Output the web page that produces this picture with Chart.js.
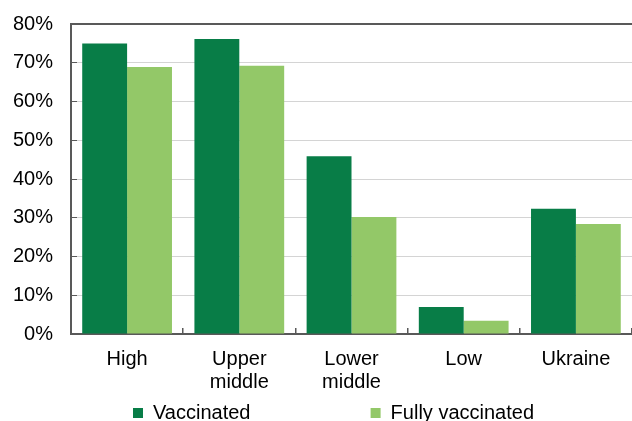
<!DOCTYPE html>
<html>
<head>
<meta charset="utf-8">
<script src="https://cdn.jsdelivr.net/npm/chart.js@4"></script>
<style>
  html, body { margin: 0; padding: 0; background: #fff; }
</style>
</head>
<body>
<canvas id="chart" width="632" height="421"></canvas>
<script>
// data
const categories = ['High', ['Upper', 'middle'], ['Lower', 'middle'], 'Low', 'Ukraine'];
const vaccinated = [75.0, 76.1, 45.9, 7.0, 32.3];
const fullyVaccinated = [68.9, 69.2, 30.2, 3.4, 28.4];
const yTicks = [0, 10, 20, 30, 40, 50, 60, 70, 80];

const darkGreen = '#087d47';
const lightGreen = '#93c868';
const axisGrey = '#595959';
const gridGrey = '#d4d4d4';
const font = { family: "'Liberation Sans', Arial, sans-serif", size: 20, lineHeight: 1.15 };

// spaces after the first legend text to push the second item to the right
const legendGap = '                    ';

new Chart(document.getElementById('chart'), {
  type: 'bar',
  data: {
    labels: categories,
    datasets: [{
      label: 'Vaccinated',
      data: vaccinated,
      backgroundColor: darkGreen,
      borderWidth: 0,
      categoryPercentage: 0.8,
      barPercentage: 1.0
    }, {
      label: 'Fully vaccinated',
      data: fullyVaccinated,
      backgroundColor: lightGreen,
      borderWidth: 0,
      categoryPercentage: 0.8,
      barPercentage: 1.0
    }]
  },
  options: {
    responsive: false,
    animation: false,
    devicePixelRatio: 1,
    layout: { autoPadding: false, padding: { left: 33, top: 24, right: -2, bottom: -12 } },
    plugins: {
      tooltip: { enabled: false },
      legend: {
        position: 'bottom',
        align: 'center',
        labels: {
          boxWidth: 10,
          boxHeight: 10,
          padding: 9,
          color: '#000',
          font: font,
          generateLabels: (chart) => Chart.defaults.plugins.legend.labels.generateLabels(chart).map((item, i) => {
            if (i === 0) item.text += legendGap;
            return item;
          })
        }
      }
    },
    scales: {
      x: {
        afterFit: (scale) => { scale.height = 60; },
        grid: {
          display: true,
          drawOnChartArea: false,
          drawTicks: true,
          tickLength: -6,
          color: axisGrey,
          lineWidth: 1.5
        },
        border: { display: true, color: axisGrey, width: 2 },
        ticks: { color: '#000', font: font, padding: 20, maxRotation: 0, autoSkip: false }
      },
      y: {
        min: 0,
        max: 80,
        afterFit: (scale) => { scale.width = 38; },
        afterBuildTicks: (scale) => { scale.ticks = yTicks.map(v => ({ value: v })); },
        grid: {
          color: (ctx) => ctx.tick && ctx.tick.value === 80 ? axisGrey : gridGrey,
          lineWidth: (ctx) => ctx.tick && ctx.tick.value === 80 ? 2 : 1,
          tickColor: axisGrey,
          tickLength: -6,
          drawTicks: true
        },
        border: { display: true, color: axisGrey, width: 2 },
        ticks: {
          color: '#000',
          font: font,
          mirror: true,
          crossAlign: 'far',
          padding: -58,
          callback: (v) => v + '%'
        }
      }
    }
  }
});
</script>
</body>
</html>
